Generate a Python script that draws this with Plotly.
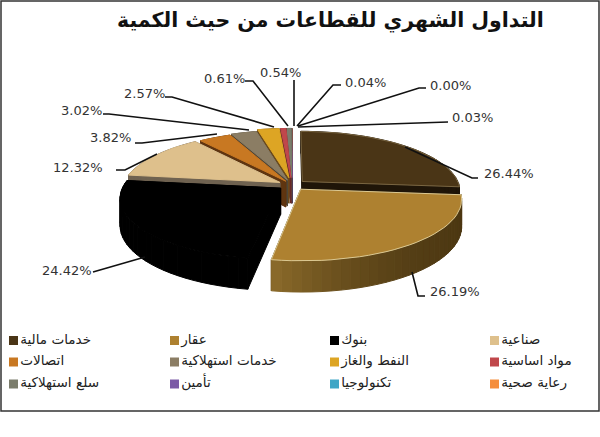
import plotly.graph_objects as go
import numpy as np

# Monthly turnover share by sector (percent), clockwise from twelve o'clock
sectors = ["خدمات مالية", "عقار", "بنوك", "صناعية", "اتصالات", "خدمات استهلاكية",
           "النفط والغاز", "مواد اساسية", "سلع استهلاكية", "تأمين", "تكنولوجيا", "رعاية صحية"]
shares = [26.44, 26.19, 24.42, 12.32, 3.82, 3.02, 2.57, 0.61, 0.54, 0.04, 0.00, 0.03]
share_labels = ["26.44%", "26.19%", "24.42%", "12.32%", "3.82%", "3.02%",
                "2.57%", "0.61%", "0.54%", "0.04%", "0.00%", "0.03%"]
top_colors = ["#4A3516", "#AE8130", "#000000", "#DEC08C", "#C87822", "#8B7D64",
              "#DDA524", "#C0474B", "#7B7D6C", "#7B5AA6", "#3FA6C6", "#F58E3C"]
legend_colors = top_colors
side_near = ["#1F1508", "#8F6E2C", "#000000", "#6F6250", "#5F3510", "#4E473A",
             "#6B4A1C", "#6B2A2A", "#55564A", "#4A3766", "#2A6A80", "#8A5020"]
side_far = ["#1F1508", "#4D3812", "#000000", "#6F6250", "#5F3510", "#4E473A",
            "#6B4A1C", "#6B2A2A", "#55564A", "#4A3766", "#2A6A80", "#8A5020"]
rim_colors = ["#7A6642", "#DCC992", None, None, None, None, None, None, None, None, None, None]
title_text = "التداول الشهري للقطاعات من حيث الكمية"

# Pie projection, in page pixels
CX, CY = 292.0, 185.0
RADIUS = 157.0
TILT = 59.0
PERSPECTIVE = 0.156
DEPTH = 26.0
explode = [14, 14, 14, 14, 12, 14, 20, 20, 20, 20, 20, 20]
# Back slices are painted first so the front ones overlap them
paint_order = [11, 10, 9, 8, 7, 6, 5, 4, 3, 0, 2, 1]


def project(px, py, drop=0.0):
    """py runs from -1 (far) to 1 (near), in radius units."""
    s = 1.0 / (1.0 - PERSPECTIVE * py)
    return CX + RADIUS * px * s, CY + TILT * py * s + drop * s


def hex_rgb(c):
    return np.array([int(c[i:i + 2], 16) for i in (1, 3, 5)], dtype=float)


def mix(a, b, t):
    v = hex_rgb(a) * (1 - t) + hex_rgb(b) * t
    return "rgb(%d,%d,%d)" % tuple(v.round())


fig = go.Figure()


def polygon(xs, ys, color, line=None, width=0.0):
    fig.add_trace(go.Scatter(
        x=list(xs), y=list(ys), mode="lines", fill="toself", fillcolor=color,
        line=dict(color=line or color, width=width if line else 1.0),
        hoverinfo="skip", showlegend=False))


edges = np.concatenate([[0], np.cumsum(shares)]) / sum(shares) * 2 * np.pi

for i in paint_order:
    if shares[i] <= 0:
        continue
    a0, a1 = edges[i], edges[i + 1]
    mid = (a0 + a1) / 2
    off_x = explode[i] / RADIUS * np.sin(mid)
    off_y = -explode[i] / RADIUS * np.cos(mid)
    n = max(2, int((a1 - a0) / np.radians(3)) + 1)
    th = np.linspace(a0, a1, n)
    rim_x = off_x + np.sin(th)
    rim_y = off_y - np.cos(th)

    # Radial walls
    for j in (0, n - 1):
        ax, ay = project(off_x, off_y)
        bx, by = project(off_x, off_y, DEPTH)
        cx, cy = project(rim_x[j], rim_y[j], DEPTH)
        dx, dy = project(rim_x[j], rim_y[j])
        polygon([ax, bx, cx, dx, ax], [ay, by, cy, dy, ay], side_far[i])

    # Outer wall, shaded segment by segment with the light end kept short
    for j in range(n - 1):
        t = ((th[j] - a0) / (a1 - a0)) ** 3
        ax, ay = project(rim_x[j], rim_y[j])
        bx, by = project(rim_x[j + 1], rim_y[j + 1])
        cx, cy = project(rim_x[j + 1], rim_y[j + 1], DEPTH)
        dx, dy = project(rim_x[j], rim_y[j], DEPTH)
        polygon([ax, bx, cx, dx, ax], [ay, by, cy, dy, ay], mix(side_far[i], side_near[i], t))

    # Top face
    xs, ys = project(rim_x, rim_y)
    ax, ay = project(off_x, off_y)
    polygon([ax, *xs, ax], [ay, *ys, ay], top_colors[i], line=rim_colors[i], width=1.0)

# Leader lines, one polyline per label
leaders = {
    0: ([478, 472, 405], [178, 178, 147]),
    1: ([425, 418, 412], [296, 296, 272]),
    2: ([93, 145], [272, 257]),
    3: ([116, 125, 157], [170, 170, 154]),
    4: ([135, 142, 217], [143, 143, 134]),
    5: ([103, 109, 249], [114, 114, 130]),
    6: ([165, 172, 274], [97, 97, 127]),
    7: ([245, 253, 288], [81, 81, 126]),
    8: ([294, 294], [80, 126]),
    9: ([341, 333, 297], [85, 85, 126]),
    10: ([426, 419, 298], [88, 88, 126]),
    11: ([448, 298], [122, 127]),
}
for i, (lx, ly) in leaders.items():
    fig.add_trace(go.Scatter(x=lx, y=ly, mode="lines", line=dict(color="#111111", width=1.6),
                             hoverinfo="skip", showlegend=False))

label_pos = [(482, 173), (428, 291), (40, 270), (51, 167), (88, 137), (59, 110),
             (122, 93), (202, 78), (258, 72), (343, 82), (428, 85), (450, 117)]
for (lx, ly), text in zip(label_pos, share_labels):
    fig.add_annotation(x=lx, y=ly, text=text, showarrow=False, xanchor="left", yanchor="middle",
                       font=dict(family="DejaVu Sans", size=13, color="#333333"))

# Key: four columns by three rows
col_x = [13.5, 174.5, 334.5, 494.5]
row_y = [340.5, 362, 384]
key_x = [col_x[k % 4] for k in range(12)]
key_y = [row_y[k // 4] for k in range(12)]
fig.add_trace(go.Scatter(
    x=key_x, y=key_y, mode="markers+text", text=sectors, textposition="middle right",
    textfont=dict(family="DejaVu Sans", size=13.6, color="#222222"),
    marker=dict(symbol="square", size=9, color=legend_colors, line=dict(width=0)),
    hoverinfo="skip", showlegend=False))

fig.add_annotation(x=330, y=20, text=title_text, showarrow=False, xanchor="center", yanchor="middle",
                   font=dict(family="DejaVu Sans", size=20.5, color="#111111", weight="bold"))

fig.add_shape(type="rect", x0=1, y0=1, x1=599, y1=411, line=dict(color="#333333", width=1.5))

fig.update_layout(
    width=600, height=437, margin=dict(l=0, r=0, t=0, b=0), showlegend=False,
    paper_bgcolor="white", plot_bgcolor="white",
    xaxis=dict(range=[0, 600], visible=False, fixedrange=True),
    yaxis=dict(range=[437, 0], visible=False, fixedrange=True),
)

fig.write_html("out.html", config={"displayModeBar": False})
